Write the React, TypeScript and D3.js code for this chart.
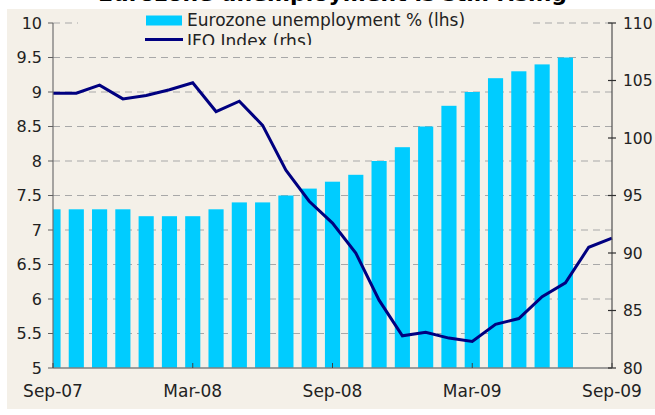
import * as d3 from "d3";

const months = [
  "Sep-07", "Oct-07", "Nov-07", "Dec-07", "Jan-08", "Feb-08", "Mar-08", "Apr-08",
  "May-08", "Jun-08", "Jul-08", "Aug-08", "Sep-08", "Oct-08", "Nov-08", "Dec-08",
  "Jan-09", "Feb-09", "Mar-09", "Apr-09", "May-09", "Jun-09", "Jul-09", "Aug-09", "Sep-09",
];
// Eurozone unemployment %, Sep-07 .. Jul-09
const unemployment = [
  7.3, 7.3, 7.3, 7.3, 7.2, 7.2, 7.2, 7.3, 7.4, 7.4, 7.5, 7.6,
  7.7, 7.8, 8.0, 8.2, 8.5, 8.8, 9.0, 9.2, 9.3, 9.4, 9.5,
];
// IFO index, Sep-07 .. Sep-09
const ifo = [
  103.9, 103.9, 104.6, 103.4, 103.7, 104.2, 104.8, 102.3, 103.2, 101.1, 97.2, 94.5,
  92.6, 90.0, 85.9, 82.8, 83.1, 82.6, 82.3, 83.8, 84.3, 86.2, 87.4, 90.5, 91.3,
];
const leftTicks = [5, 5.5, 6, 6.5, 7, 7.5, 8, 8.5, 9, 9.5, 10];
const rightTicks = [80, 85, 90, 95, 100, 105, 110];
const xTickLabels = ["Sep-07", "Mar-08", "Sep-08", "Mar-09", "Sep-09"];

const W = 655, H = 415;
const plot = { left: 53, right: 612, top: 23, bottom: 368 };
const bg = "#f4f0e8";
const font = "DejaVu Sans, Verdana, sans-serif";

export default function App() {
  const x = d3.scalePoint<string>().domain(months).range([plot.left, plot.right]);
  const yL = d3.scaleLinear().domain([5, 10]).range([plot.bottom, plot.top]);
  const yR = d3.scaleLinear().domain([80, 110]).range([plot.bottom, plot.top]);
  const barW = x.step() * 0.65;

  const line = d3.line<number>()
    .x((_, i) => x(months[i]) as number)
    .y((d) => yR(d));

  return (
    <svg width={W} height={H} style={{ position: "absolute", left: 0, top: 0 }} fontFamily={font}>
      <defs>
        <clipPath id="plotClip">
          <rect x={plot.left} y={plot.top} width={plot.right - plot.left} height={plot.bottom - plot.top} />
        </clipPath>
        <clipPath id="legendClip">
          <rect x={78} y={9} width={452} height={36} />
        </clipPath>
      </defs>
      <rect width={W} height={H} fill="#fff" />
      {/* title, cropped off the top in the source */}
      <text x={98} y={1} fontSize={22} fontWeight="bold" fill="#000">
        Eurozone unemployment is still rising
      </text>
      <rect x={7} y={9} width={648} height={400} fill={bg} />

      {/* gridlines */}
      {leftTicks.filter((t) => t > 5).map((t) => (
        <line key={t} x1={plot.left} x2={plot.right} y1={yL(t)} y2={yL(t)}
          stroke="#a8a8a8" strokeWidth={1} strokeDasharray="7,5" />
      ))}

      {/* bars */}
      <g clipPath="url(#plotClip)">
        {unemployment.map((v, i) => (
          <rect key={i} x={(x(months[i]) as number) - barW / 2} y={yL(v)}
            width={barW} height={yL(5) - yL(v)} fill="#00ccff" />
        ))}
      </g>

      {/* IFO line */}
      <path d={line(ifo) ?? ""} fill="none" stroke="#000080" strokeWidth={3} />

      {/* axes */}
      <line x1={plot.left} x2={plot.right} y1={plot.bottom} y2={plot.bottom} stroke="#808080" strokeWidth={1.5} />
      <line x1={plot.left} x2={plot.left} y1={plot.top} y2={plot.bottom} stroke="#707070" strokeWidth={1.2} />
      <line x1={plot.right} x2={plot.right} y1={plot.top} y2={plot.bottom} stroke="#505050" strokeWidth={1.2} />

      {leftTicks.map((t) => (
        <g key={t}>
          <line x1={plot.left - 5} x2={plot.left} y1={yL(t)} y2={yL(t)} stroke="#606060" />
          <text x={42} y={yL(t)} dy="0.36em" textAnchor="end" fontSize={16} fill="#222">{t}</text>
        </g>
      ))}
      {rightTicks.map((t) => (
        <g key={t}>
          <line x1={plot.right - 4} x2={plot.right + 4} y1={yR(t)} y2={yR(t)} stroke="#303030" strokeWidth={1.2} />
          <text x={623} y={yR(t)} dy="0.36em" textAnchor="start" fontSize={15.5} fill="#222">{t}</text>
        </g>
      ))}
      {xTickLabels.map((m) => (
        <g key={m}>
          <line x1={x(m)} x2={x(m)} y1={plot.bottom} y2={plot.bottom - 5} stroke="#404040" />
          <text x={x(m)} y={397} textAnchor="middle" fontSize={17} fill="#222">{m}</text>
        </g>
      ))}

      {/* legend */}
      <rect x={78} y={9} width={452} height={36} fill={bg} />
      <g clipPath="url(#legendClip)" fontSize={17} fill="#222">
        <rect x={146} y={15.5} width={36} height={10} fill="#00ccff" />
        <text x={187} y={26}>Eurozone unemployment % (lhs)</text>
        <line x1={145} x2={183} y1={39.5} y2={39.5} stroke="#000080" strokeWidth={3} />
        <text x={187} y={46.5}>IFO Index (rhs)</text>
      </g>
    </svg>
  );
}
